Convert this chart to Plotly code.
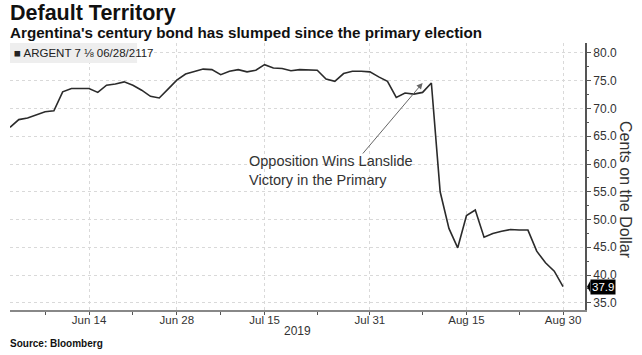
import plotly.graph_objects as go

# ---------------- data ----------------
dates = [
    "2019-06-03", "2019-06-04", "2019-06-05", "2019-06-06", "2019-06-07",
    "2019-06-10", "2019-06-11", "2019-06-12", "2019-06-13", "2019-06-14",
    "2019-06-17", "2019-06-18", "2019-06-19", "2019-06-20", "2019-06-21",
    "2019-06-24", "2019-06-25", "2019-06-26", "2019-06-27", "2019-06-28",
    "2019-07-01", "2019-07-02", "2019-07-03", "2019-07-05",
    "2019-07-08", "2019-07-09", "2019-07-10", "2019-07-11", "2019-07-12",
    "2019-07-15", "2019-07-16", "2019-07-17", "2019-07-18", "2019-07-19",
    "2019-07-22", "2019-07-23", "2019-07-24", "2019-07-25", "2019-07-26",
    "2019-07-29", "2019-07-30", "2019-07-31",
    "2019-08-01", "2019-08-02",
    "2019-08-05", "2019-08-06", "2019-08-07", "2019-08-08", "2019-08-09",
    "2019-08-12", "2019-08-13", "2019-08-14", "2019-08-15", "2019-08-16",
    "2019-08-19", "2019-08-20", "2019-08-21", "2019-08-22", "2019-08-23",
    "2019-08-26", "2019-08-27", "2019-08-28", "2019-08-29", "2019-08-30",
]
prices = [
    66.6, 68.0, 68.3, 68.9, 69.4,
    69.6, 73.0, 73.6, 73.6, 73.6,
    72.9, 74.2, 74.4, 74.8, 74.2,
    73.3, 72.2, 71.9, 73.5, 75.1,
    76.2, 76.6, 77.1, 77.0,
    76.1, 76.7, 77.0, 76.6, 76.9,
    77.9, 77.3, 77.2, 76.8, 77.0,
    77.0, 76.9, 75.3, 74.9, 76.3,
    76.7, 76.7, 76.6,
    75.7, 74.9,
    72.0, 72.8, 72.6, 72.9, 74.6,
    55.0, 48.4, 44.9, 50.7, 51.7,
    46.8, 47.5, 47.9, 48.2, 48.1,
    48.1, 44.3, 42.2, 40.7, 37.9,
]
x_tick_dates = ["2019-06-14", "2019-06-28", "2019-07-15", "2019-07-31", "2019-08-15", "2019-08-30"]
x_tick_labels = ["Jun 14", "Jun 28", "Jul 15", "Jul 31", "Aug 15", "Aug 30"]
x_minor_dates = ["2019-06-07", "2019-06-21", "2019-07-08", "2019-07-23", "2019-08-08", "2019-08-23"]
y_ticks = [35, 40, 45, 50, 55, 60, 65, 70, 75, 80]

event_date = "2019-08-08"
event_value = 74.6
event_text = "Opposition Wins Lanslide<br>Victory in the Primary"
last_value = prices[-1]

FONT = "Liberation Sans, Arial, sans-serif"
AX = "#555555"
GRID = "#d9d9d9"

fig = go.Figure()
fig.add_trace(go.Scatter(
    x=dates, y=prices, mode="lines",
    line=dict(color="#2b2b2b", width=1.6),
    hoverinfo="skip", showlegend=False,
))

fig.update_layout(
    width=642, height=355,
    margin=dict(l=10, r=57, t=43, b=45),
    paper_bgcolor="white", plot_bgcolor="white",
    font=dict(family=FONT, color="#333333", size=12),
    showlegend=False,
)

fig.update_xaxes(
    type="date",
    range=["2019-06-03", "2019-09-03 12:00"],
    rangebreaks=[dict(bounds=["sat", "mon"]), dict(values=["2019-07-04"])],
    tickmode="array", tickvals=x_tick_dates, ticktext=x_tick_labels,
    tickfont=dict(size=11.5, color="#333333"),
    ticklabelstandoff=-5,
    showgrid=True, gridcolor=GRID, griddash="dot", gridwidth=1,
    showline=True, linecolor="#888888", linewidth=1.5,
    ticks="outside", ticklen=3, tickcolor=AX,
    minor=dict(tickmode="array", tickvals=x_minor_dates, ticks="outside",
               ticklen=3, tickcolor=AX, showgrid=False),
    zeroline=False, automargin=False,
)

fig.update_yaxes(
    side="right",
    range=[33.7, 81.8],
    tickmode="array", tickvals=y_ticks, tickformat=".1f",
    tickfont=dict(size=12, color="#333333"),
    showgrid=True, gridcolor=GRID, griddash="dot", gridwidth=1,
    showline=True, linecolor=AX, linewidth=1.8,
    ticks="outside", ticklen=4, tickcolor=AX,
    minor=dict(dtick=2.5, tick0=35, ticks="outside", ticklen=2, tickcolor=AX, showgrid=False),
    zeroline=False, automargin=False,
)

# legend-like box
fig.add_shape(type="rect", xref="paper", yref="paper",
              x0=0, x1=0.221, y0=0.925, y1=1.0,
              fillcolor="#eeeeee", line=dict(width=0), layer="above")

# last value marker pointer
fig.add_shape(type="path", xref="paper", yref="y",
              path=f"M 1.0035,{last_value} L 1.0095,{last_value + 1.1} L 1.0095,{last_value - 1.1} Z",
              fillcolor="black", line=dict(width=0))

annotations = [
    dict(text="<b>Default Territory</b>", xref="paper", yref="paper",
         x=-0.0035, y=1.112, xanchor="left", yanchor="middle", showarrow=False,
         font=dict(size=21.5, color="#111111", family=FONT)),
    dict(text="<b>Argentina's century bond has slumped since the primary election</b>",
         xref="paper", yref="paper", x=-0.0035, y=1.041, xanchor="left", yanchor="middle",
         showarrow=False, font=dict(size=15.2, color="#111111", family=FONT)),
    dict(text="■ ARGENT 7 ⅛ 06/28/2117", xref="paper", yref="paper",
         x=0.003, y=0.963, xanchor="left", yanchor="middle", showarrow=False,
         font=dict(size=11.5, color="#222222", family=FONT)),
    dict(text="<b>Source: Bloomberg</b>", xref="paper", yref="paper",
         x=-0.0035, y=-0.124, xanchor="left", yanchor="middle", showarrow=False,
         font=dict(size=10, color="#111111", family=FONT)),
    dict(text="2019", xref="paper", yref="paper", x=0.5, y=-0.079,
         xanchor="center", yanchor="middle", showarrow=False,
         font=dict(size=12, color="#333333", family=FONT)),
    dict(text="Cents on the Dollar", xref="paper", yref="paper", x=1.0705, y=0.451,
         xanchor="center", yanchor="middle", textangle=90, showarrow=False,
         font=dict(size=16, color="#333333", family=FONT)),
    dict(text=event_text, xref="paper", yref="paper", x=0.412, y=0.524,
         xanchor="left", yanchor="middle", align="left", showarrow=False,
         font=dict(size=14.5, color="#333333", family=FONT)),
    dict(text="", x=event_date, y=event_value, xref="x", yref="y",
         showarrow=True, ax=-61, ay=72, arrowcolor="#666666", arrowwidth=1,
         arrowhead=2, arrowsize=1.2),
    dict(text=f"{last_value:.1f}", xref="paper", yref="y", x=1.0095, y=last_value,
         xanchor="left", yanchor="middle", showarrow=False, bgcolor="black",
         borderpad=1, font=dict(size=11.5, color="white", family=FONT)),
]
fig.update_layout(annotations=annotations)

# remove the browser's default 8px body margin so the figure sits at the page origin
fig.write_html("out.html", config={"displayModeBar": False},
               post_script="document.body.style.margin='0px';")
